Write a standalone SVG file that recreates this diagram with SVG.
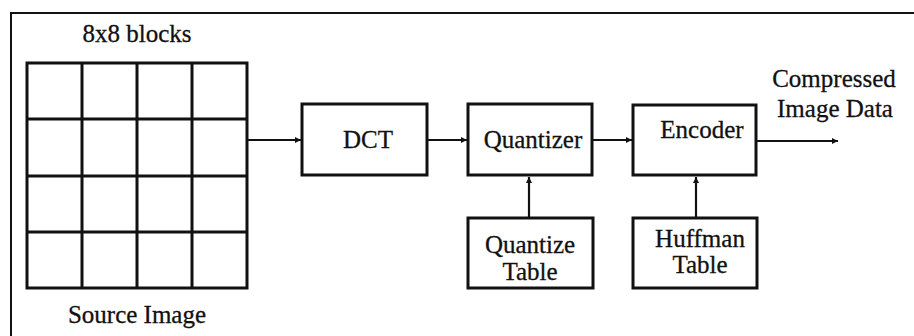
<svg xmlns="http://www.w3.org/2000/svg" width="914" height="336" viewBox="0 0 914 336">
<style>
.box{fill:#fff;stroke:#111;stroke-width:3}
.grid{fill:none;stroke:#111;stroke-width:3}
.t{font-family:"Liberation Serif","DejaVu Serif","Times New Roman",serif;font-size:25px;fill:#111;text-anchor:middle;stroke:#111;stroke-width:0.3}
.c{stroke:#111;stroke-width:2.2;fill:none;marker-end:url(#ah)}
</style>
<defs>
<marker id="ah" viewBox="0 0 10 10" refX="10" refY="5" markerWidth="9" markerHeight="6" markerUnits="userSpaceOnUse" orient="auto">
<path d="M0,0 L10,5 L0,10 z" fill="#111"/>
</marker>
</defs>
<rect width="914" height="336" fill="#fff"/>
<path d="M11,336 V13 H914" fill="none" stroke="#111" stroke-width="2"/>
<g id="source">
<text class="t" x="137" y="42">8x8 blocks</text>
<rect class="grid" x="27" y="63" width="220" height="225"/>
<path class="grid" d="M82,63 V288 M137,63 V288 M192,63 V288 M27,119 H247 M27,176 H247 M27,232 H247"/>
<text class="t" x="137" y="323">Source Image</text>
</g>
<g id="dct">
<rect class="box" x="302" y="104" width="125" height="71"/>
<text class="t" x="368" y="148">DCT</text>
</g>
<g id="quantizer">
<rect class="box" x="468" y="104" width="124" height="71"/>
<text class="t" x="533" y="148">Quantizer</text>
</g>
<g id="encoder">
<rect class="box" x="633" y="105" width="123" height="70"/>
<text class="t" x="702" y="138">Encoder</text>
</g>
<g id="qtable">
<rect class="box" x="468" y="218" width="125" height="70"/>
<text class="t" x="530" y="253">Quantize</text>
<text class="t" x="530" y="280">Table</text>
</g>
<g id="htable">
<rect class="box" x="633" y="218" width="124" height="70"/>
<text class="t" x="700" y="247">Huffman</text>
<text class="t" x="700" y="273">Table</text>
</g>
<g id="output">
<text class="t" x="834" y="87">Compressed</text>
<text class="t" x="835" y="117">Image Data</text>
</g>
<g id="connectors">
<path class="c" d="M248,140 H301"/>
<path class="c" d="M428,140 H467"/>
<path class="c" d="M593,140 H632"/>
<path class="c" d="M757,141 H838"/>
<path class="c" d="M529,217 V177"/>
<path class="c" d="M696,217 V177"/>
</g>
</svg>
